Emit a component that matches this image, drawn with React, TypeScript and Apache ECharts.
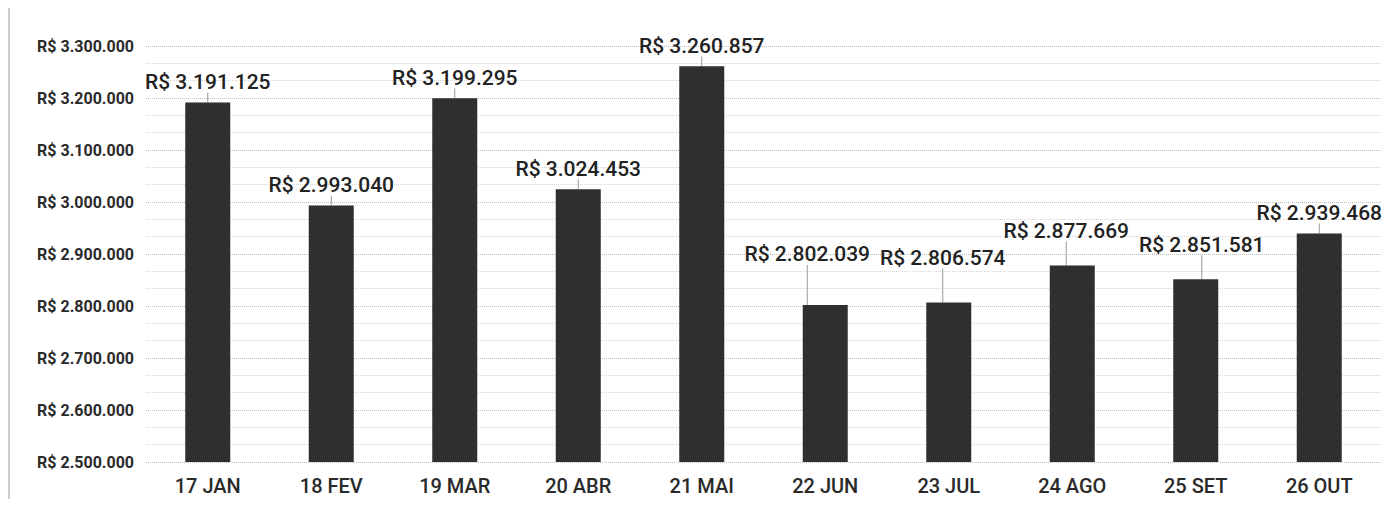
import React, { useEffect, useRef } from "react";
import * as echarts from "echarts";

const categories = ["17 JAN", "18 FEV", "19 MAR", "20 ABR", "21 MAI", "22 JUN", "23 JUL", "24 AGO", "25 SET", "26 OUT"];
const values = [3191125, 2993040, 3199295, 3024453, 3260857, 2802039, 2806574, 2877669, 2851581, 2939468];
const yMin = 2500000;
const yMax = 3300000;
const yStep = 100000;

const fmt = (v: number) => "R$ " + Math.round(v).toString().replace(/\B(?=(\d{3})+(?!\d))/g, ".");

const shifted: Record<number, [number, number]> = {
  5: [-18, -30],
  6: [-6, -24],
  7: [-6, -14],
  8: [6, -14],
};

export default function App() {
  const ref = useRef<HTMLDivElement>(null);
  useEffect(() => {
    const chart = echarts.init(ref.current!, undefined, { renderer: "svg" });
    chart.setOption({
      animation: false,
      backgroundColor: "#ffffff",
      grid: { left: 138, right: 8, top: 38, bottom: 37 },
      xAxis: {
        type: "category",
        data: categories,
        axisLine: { show: false },
        axisTick: { show: false },
        axisLabel: { fontFamily: "Roboto", fontSize: 20, fontWeight: 500, color: "#2a2a2a", margin: 14 },
      },
      yAxis: {
        type: "value",
        min: yMin,
        max: yMax,
        interval: yStep,
        axisLine: { show: false },
        axisTick: { show: false },
        axisLabel: { fontFamily: "Roboto", fontSize: 16, fontWeight: "bold", color: "#2a2a2a", margin: 12, formatter: (v: number) => fmt(v) },
        splitLine: { lineStyle: { type: "dotted", color: "#bdbdbd", width: 1 } },
        minorTick: { show: false, splitNumber: 3 },
        minorSplitLine: { show: true, lineStyle: { type: "dotted", color: "#d6d6d6", width: 1 } },
      },
      graphic: [
        { type: "line", shape: { x1: 1, y1: 0, x2: 1, y2: 491 }, style: { stroke: "#9a9a9a", lineWidth: 1 } },
      ],
      series: [
        {
          type: "bar",
          data: values,
          barWidth: 45,
          itemStyle: { color: "#2f2f2f" },
          label: {
            show: true,
            position: "top",
            distance: 10,
            fontFamily: "Roboto",
            fontSize: 21,
            fontWeight: 500,
            color: "#222222",
            formatter: (p: any) => fmt(p.value),
          },
          labelLine: { show: true, lineStyle: { color: "#999999", width: 1 } },
          labelLayout: (p: any) => {
            const s = shifted[p.dataIndex];
            if (!s) return {};
            return { dx: s[0], dy: s[1] };
          },
        },
      ],
    });
    return () => chart.dispose();
  }, []);
  return <div ref={ref} style={{ width: 1381, height: 491 }} />;
}
